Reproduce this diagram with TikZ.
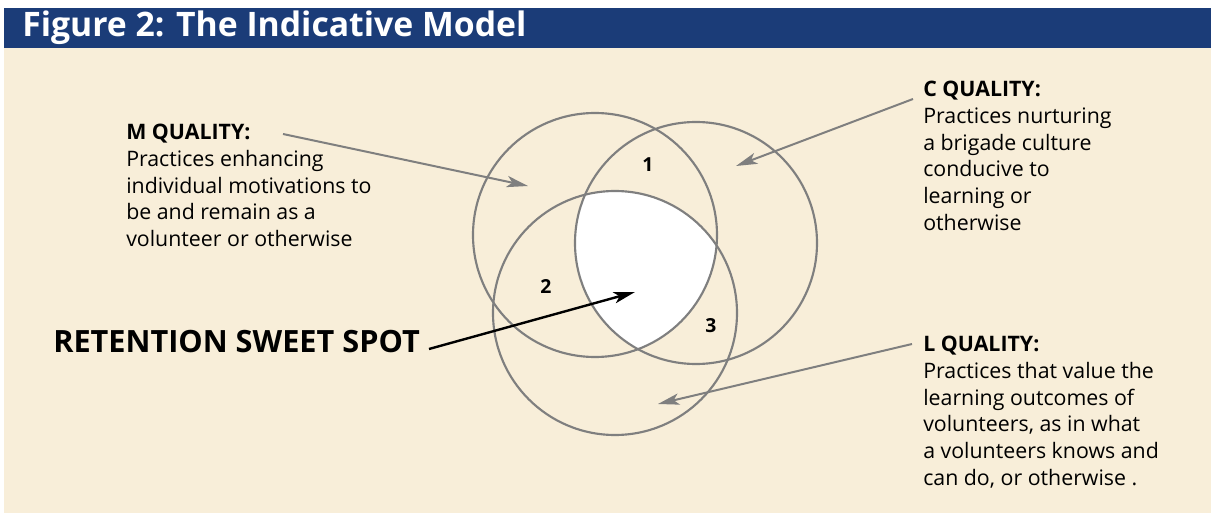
\documentclass[tikz,border=0pt]{standalone}
\usepackage{fontspec}
\setmainfont{Open Sans}
\usetikzlibrary{arrows.meta}
\definecolor{IMBlue}{HTML}{1B3C78}
\definecolor{IMCream}{HTML}{F8EED9}
\definecolor{IMGray}{HTML}{7F7F7F}

\begin{document}
\begin{tikzpicture}[x=0.75pt,y=-0.75pt,
  ring/.style={IMGray,line width=1.6pt},
  pointer/.style={IMGray,line width=1.5pt,-{Stealth[length=16pt,width=8.5pt,inset=4pt]}},
  blurb/.style={anchor=north west,inner sep=0pt,align=left,font=\fontsize{16}{20}\selectfont},
  areanum/.style={inner sep=0pt,font=\fontsize{14.5}{16}\selectfont\bfseries}]
\path[use as bounding box] (0,0) rectangle (1211,513);
\fill[IMCream] (4,48) rectangle (1211,513);
\fill[IMBlue] (4,8) rectangle (1211,48);
\node[anchor=base west,inner sep=0pt,text=white,font=\fontsize{25.3}{28}\selectfont\bfseries] (title) at (22,37) {Figure 2: The Indicative Model};
\coordinate (mc) at (595,235);
\coordinate (cc) at (696,243);
\coordinate (lc) at (615,313);
\begin{scope}
\clip (mc) circle (91.5pt);
\clip (cc) circle (90.75pt);
\fill[white] (lc) circle (91.5pt);
\end{scope}
\draw[ring] (mc) circle (91.5pt);
\draw[ring] (cc) circle (90.75pt);
\draw[ring] (lc) circle (91.5pt);
\node[areanum] (one) at (648,165) {1};
\node[areanum] (two) at (546,287) {2};
\node[areanum] (three) at (711,326) {3};
\node[blurb] (mq) at (126,124) {\textbf{M QUALITY:}\\Practices enhancing\\individual motivations to\\be and remain as a\\volunteer or otherwise};
\node[blurb] (cq) at (923,81) {\textbf{C QUALITY:}\\Practices nurturing\\a brigade culture\\conducive to\\learning or\\otherwise};
\node[blurb] (lq) at (923,336) {\textbf{L QUALITY:}\\Practices that value the\\learning outcomes of\\volunteers, as in what\\a volunteers knows and\\can do, or otherwise .};
\node[anchor=base west,inner sep=0pt,font=\fontsize{23}{26}\selectfont\bfseries] (spot) at (53,353) {RETENTION SWEET SPOT};
\coordinate (mtail) at (283,134);
\coordinate (mtip) at (528,186);
\coordinate (ctail) at (913,99);
\coordinate (ctip) at (736,166);
\coordinate (ltail) at (912,344);
\coordinate (ltip) at (658,404);
\coordinate (stail) at (429,349);
\coordinate (stip) at (635,292);
\draw[pointer] (mtail) -- (mtip);
\draw[pointer] (ctail) -- (ctip);
\draw[pointer] (ltail) -- (ltip);
\draw[pointer,black,line width=1.8pt] (stail) -- (stip);
\end{tikzpicture}
\end{document}
